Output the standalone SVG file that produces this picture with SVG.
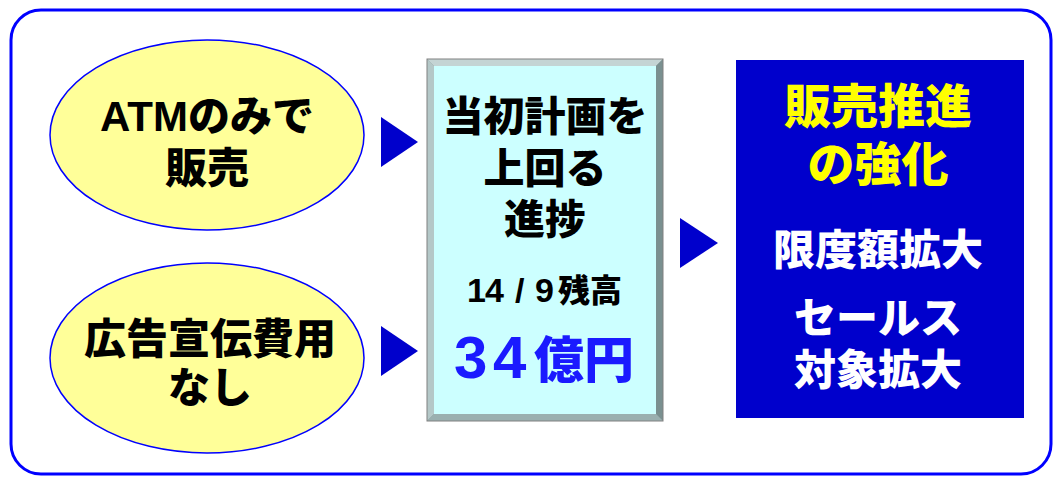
<svg xmlns="http://www.w3.org/2000/svg" width="1056" height="478" viewBox="0 0 1056 478">
<style>
.t{font-family:"Liberation Sans","Noto Sans CJK JP",sans-serif;font-weight:900;text-anchor:middle}
.s{text-anchor:start}
.blk{fill:#000}
.yel{fill:#ffff00}
.wht{fill:#ffffff}
.ell{fill:#ffff99;stroke:#0000ff;stroke-width:1.5}
.arr{fill:#0000cc}
</style>
<rect x="11" y="10" width="1040" height="464" rx="30" ry="30" fill="#ffffff" stroke="#0000ff" stroke-width="3"/>
<g id="node-atm">
<ellipse class="ell" cx="207" cy="135" rx="157" ry="95"/>
<text class="t blk" x="207" y="131" font-size="42">ATMのみで</text>
<text class="t blk" x="207" y="183" font-size="42">販売</text>
</g>
<g id="node-ad">
<ellipse class="ell" cx="207" cy="358" rx="157" ry="95"/>
<text class="t blk" x="210" y="354" font-size="42">広告宣伝費用</text>
<text class="t blk" x="210" y="403" font-size="42">なし</text>
</g>
<g id="node-progress">
<rect x="427" y="59" width="236" height="362" fill="#8a9a9a"/>
<polygon points="427,59 663,59 656,66 434,66" fill="#c4d4d4"/>
<polygon points="427,59 434,66 434,414 427,421" fill="#b4c8c8"/>
<polygon points="663,59 663,421 656,414 656,66" fill="#7a9090"/>
<polygon points="427,421 663,421 656,414 434,414" fill="#9ab0b0"/>
<rect x="427" y="59" width="236" height="362" fill="none" stroke="#808080" stroke-width="1"/>
<rect x="434" y="66" width="222" height="348" fill="#ccffff"/>
<text class="t blk" x="545" y="131" font-size="41">当初計画を</text>
<text class="t blk" x="545" y="183" font-size="41">上回る</text>
<text class="t blk" x="545" y="234" font-size="41">進捗</text>
<text class="t s blk" y="302"><tspan x="467 485 515 535" font-size="34">14/9</tspan><tspan x="558 590" font-size="32">残高</tspan></text>
<text class="t s" y="378" fill="#1a1aff"><tspan x="454 493" font-size="60">34</tspan><tspan x="534 584" font-size="50">億円</tspan></text>
</g>
<g id="node-promo">
<rect x="736" y="60" width="288" height="358" fill="#0000cc"/>
<text class="t yel" x="878" y="123" font-size="47">販売推進</text>
<text class="t yel" x="878" y="181" font-size="47">の強化</text>
<text class="t wht" x="878" y="265" font-size="42">限度額拡大</text>
<text class="t wht" x="878" y="333" font-size="42">セールス</text>
<text class="t wht" x="878" y="385" font-size="42">対象拡大</text>
</g>
<g id="connectors">
<polygon class="arr" points="381,117 418,142 381,167"/>
<polygon class="arr" points="381,326 418,351 381,376"/>
<polygon class="arr" points="680,218 718,243 680,268"/>
</g>
</svg>
